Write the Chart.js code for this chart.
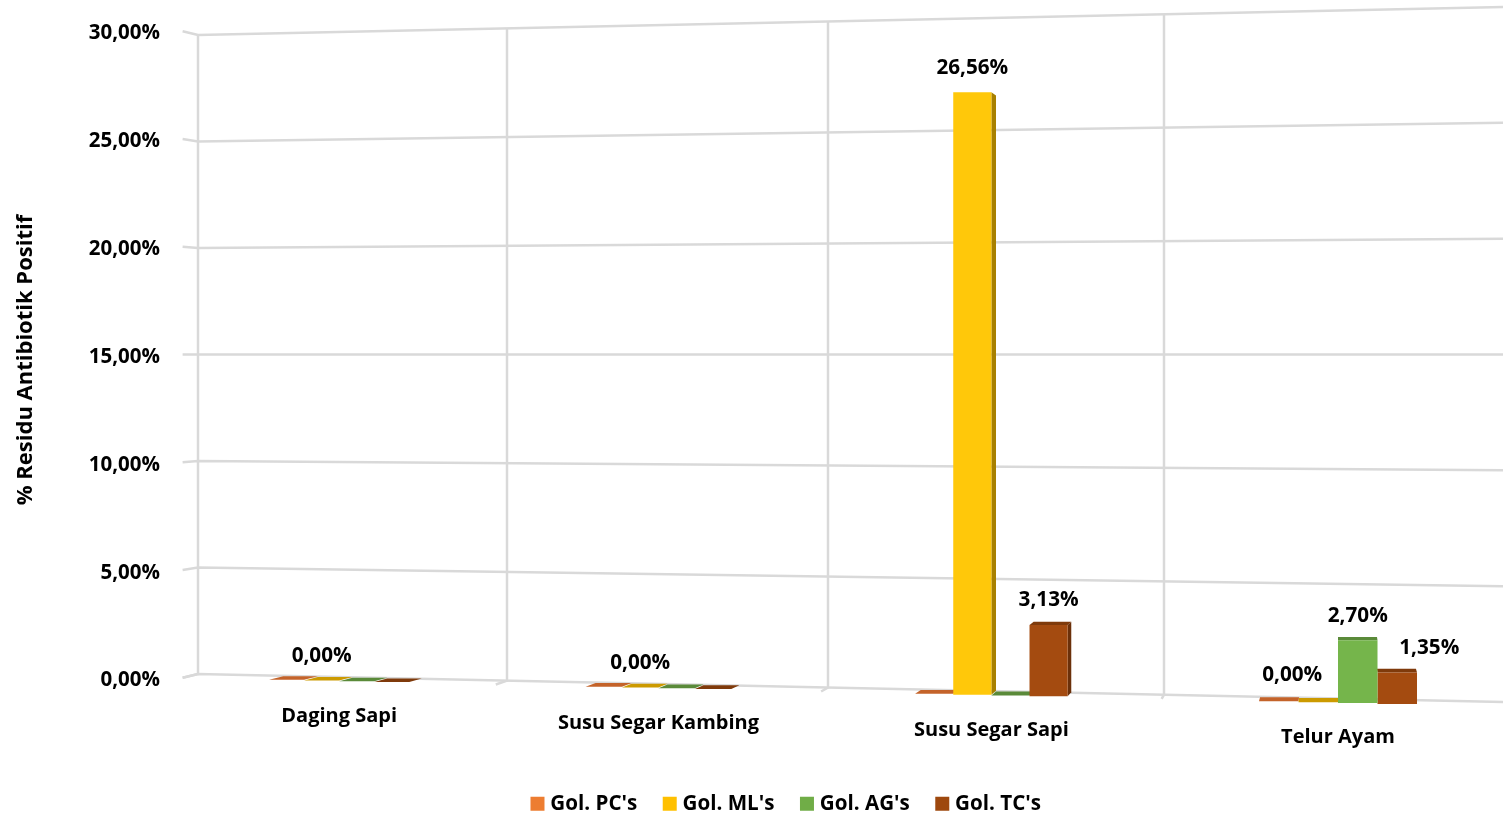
<!DOCTYPE html>
<html>
<head>
<meta charset="utf-8">
<title>Residu Antibiotik</title>
<script src="https://cdn.jsdelivr.net/npm/chart.js@4/dist/chart.umd.js"></script>
<style>
  html, body { margin: 0; padding: 0; background: #fff; overflow: hidden; }
  canvas { display: block; }
</style>
</head>
<body>
<canvas id="myChart" width="1503" height="813"></canvas>
<script>
const categories = ['Daging Sapi', 'Susu Segar Kambing', 'Susu Segar Sapi', 'Telur Ayam'];
const seriesNames = ["Gol. PC's", "Gol. ML's", "Gol. AG's", "Gol. TC's"];
const golPC = [0, 0, 0, 0];
const golML = [0, 0, 26.56, 0];
const golAG = [0, 0, 0, 2.70];
const golTC = [0, 0, 3.13, 1.35];
const yMax = 30;
const yStep = 5;

const legendColors = ['#ED7D31', '#FFC000', '#70AD47', '#9E480E'];
const frontColors = ['#ED7D31', '#FFC80A', '#75B54B', '#A44B10'];
const topColors = ['#C4632A', '#CC9A00', '#5A8A39', '#7F3A0B'];
const sideColors = ['#A0521F', '#A88000', '#4A7230', '#6B300A'];
const gridColor = '#D9D9D9';
const fontName = '"Open Sans", sans-serif';

// perspective of the 3d wall, x of the wall columns
const wallEdges = [198, 507, 828, 1164, 1512];
const wallLeft = 198, wallRight = 1503;
const axisTop = 31, axisBottom = 678;
const kLeft = 0.9876, kRight = 1.0742, kFront = 1.012;
const vanishX = 1338, depthSlope = 0.0135, slotShare = 0.112;

const pct = v => v.toFixed(2).replace('.', ',') + '%';
const kAt = x => kLeft + (x - wallLeft) / (wallRight - wallLeft) * (kRight - kLeft);
const toFrontX = x => x - (vanishX - x) * depthSlope;

function projY(chart, x, value, front) {
  const s = chart.scales.y;
  const mid = (s.top + s.bottom) / 2;
  const k = kAt(x) * (front ? kFront : 1);
  return mid + (s.getPixelForValue(value) - mid) * k;
}

function poly(ctx, pts, color) {
  ctx.fillStyle = color;
  ctx.beginPath();
  pts.forEach((p, i) => i ? ctx.lineTo(p[0], p[1]) : ctx.moveTo(p[0], p[1]));
  ctx.closePath();
  ctx.fill();
}

// bar corners on the back and the front plane
function barBox(chart, d, i) {
  const center = (wallEdges[i] + wallEdges[i + 1]) / 2;
  const slot = (wallEdges[i + 1] - wallEdges[i]) * slotShare;
  const backL = center + (d - 2) * slot;
  const backR = backL + slot;
  const value = chart.data.datasets[d].data[i];
  const frontL = toFrontX(backL), frontR = toFrontX(backR);
  const midF = (frontL + frontR) / 2, midB = (backL + backR) / 2;
  return {
    value, backL, backR, frontL, frontR, midF,
    topF: projY(chart, midF, value, true),
    baseF: projY(chart, midF, 0, true),
    topB: projY(chart, midB, value, false),
    baseB: projY(chart, midB, 0, false)
  };
}

const wall3d = {
  id: 'wall3d',
  afterLayout(chart) {
    chart.legend.left += 30;
    chart.legend.right += 30;
    chart.legend.top += 11;
    chart.legend.bottom += 11;
    const y = chart.scales.y;
    y.top = axisTop;
    y.bottom = axisBottom;
    y.height = axisBottom - axisTop;
    y.configure();
    // axis title sits a bit below the middle of the axis
    if (!y.titleShifted) {
      const drawTitle = y.drawTitle;
      y.drawTitle = function () {
        this.ctx.save();
        this.ctx.translate(0, 5.5);
        drawTitle.call(this);
        this.ctx.restore();
      };
      y.titleShifted = true;
    }
  },
  beforeDraw(chart) {
    // category labels follow the slanted floor
    chart.scales.x.getLabelItems().forEach((item, i) => {
      const b1 = barBox(chart, 1, i), b2 = barBox(chart, 2, i);
      const x = (b1.frontR + b2.frontL) / 2;
      item.options.translation = [x, projY(chart, x, 0, true) + 35];
      item.options.textAlign = 'center';
      item.options.textBaseline = 'middle';
      item.textOffset = 0;
    });
    const y = chart.scales.y;
    y.getLabelItems().forEach((item, i) => {
      item.options.translation[1] = y.getPixelForTick(i) + 2.5;
    });
  },
  beforeDatasetsDraw(chart) {
    const ctx = chart.ctx;
    const yTicks = chart.scales.y.ticks;
    ctx.save();
    ctx.strokeStyle = gridColor;
    ctx.lineWidth = 2.5;
    yTicks.forEach(t => {
      ctx.beginPath();
      ctx.moveTo(toFrontX(wallLeft), projY(chart, wallLeft, t.value, true));
      ctx.lineTo(wallLeft, projY(chart, wallLeft, t.value, false));
      ctx.lineTo(wallRight, projY(chart, wallRight, t.value, false));
      ctx.stroke();
    });
    wallEdges.slice(0, 4).forEach(x => {
      ctx.beginPath();
      ctx.moveTo(x, projY(chart, x, yMax, false));
      ctx.lineTo(x, projY(chart, x, 0, false));
      ctx.lineTo(toFrontX(x), projY(chart, x, 0, true));
      ctx.stroke();
    });

    // place the library's bars on the front plane, draw floor, side and top faces
    chart.data.datasets.forEach((ds, d) => {
      chart.getDatasetMeta(d).data.forEach((el, i) => {
        const b = barBox(chart, d, i);
        el.x = b.midF;
        el.width = b.frontR - b.frontL;
        el.y = b.topF;
        el.base = b.baseF;
        if (b.value === 0) {
          poly(ctx, [[b.frontL, b.baseF], [b.frontR, b.baseF], [b.backR, b.baseB], [b.backL, b.baseB]], topColors[d]);
        } else {
          if (b.topB < b.topF) {
            poly(ctx, [[b.frontL, b.topF], [b.frontR, b.topF], [b.backR, b.topB], [b.backL, b.topB]], topColors[d]);
          }
          if (b.backR - b.frontR > 0.5) {
            poly(ctx, [[b.frontR, b.topF], [b.backR, b.topB], [b.backR, b.baseB], [b.frontR, b.baseF]], sideColors[d]);
          }
        }
      });
    });
    ctx.restore();
  },
  afterDatasetsDraw(chart) {
    const ctx = chart.ctx;
    ctx.save();
    ctx.font = 'bold 20.7px ' + fontName;
    ctx.fillStyle = '#000';
    ctx.textAlign = 'center';
    ctx.textBaseline = 'middle';
    chart.data.datasets.forEach((ds, d) => {
      ds.data.forEach((v, i) => {
        if (v === 0 && d !== 1) return;
        const b = barBox(chart, d, i);
        let dx = 0;
        if (i === 3 && d === 1) dx = -26;
        if (i === 3 && d === 3) dx = 32;
        ctx.fillText(pct(v), b.midF + dx, b.topF - (i === 3 && d === 1 ? 27.5 : 24.5));
      });
    });
    ctx.restore();
  }
};

const allSeries = [golPC, golML, golAG, golTC];
const datasets = seriesNames.map((name, d) => ({
  label: name,
  data: allSeries[d],
  backgroundColor: frontColors[d],
  borderWidth: 0,
  clip: false
}));

new Chart(document.getElementById('myChart'), {
  type: 'bar',
  data: { labels: categories, datasets: datasets },
  plugins: [wall3d],
  options: {
    responsive: false,
    animation: false,
    devicePixelRatio: 1,
    layout: { padding: { top: 14, left: 13, right: 0, bottom: 0 } },
    plugins: {
      tooltip: { enabled: false },
      legend: {
        position: 'bottom',
        labels: {
          color: '#000',
          font: { family: fontName, weight: 'bold', size: 20.6 },
          boxWidth: 5,
          boxHeight: 5,
          padding: 30,
          generateLabels(chart) {
            return chart.data.datasets.map((ds, d) => ({
              text: ds.label,
              fillStyle: legendColors[d],
              strokeStyle: legendColors[d],
              lineWidth: 9,
              datasetIndex: d
            }));
          }
        }
      }
    },
    scales: {
      x: {
        grid: { display: false },
        border: { display: false },
        ticks: { color: '#000', font: { family: fontName, weight: 'bold', size: 20 }, maxRotation: 0, autoSkip: false },
        afterFit(s) { s.height = 78; }
      },
      y: {
        min: 0,
        max: yMax,
        grid: { display: false, drawTicks: false },
        border: { display: false },
        ticks: {
          stepSize: yStep,
          padding: 38,
          color: '#000',
          font: { family: fontName, weight: 'bold', size: 20.5 },
          callback: v => pct(v)
        },
        title: {
          display: true,
          text: '% Residu Antibiotik Positif',
          color: '#000',
          font: { family: fontName, weight: 'bold', size: 22 },
          padding: 0
        },
        afterFit(s) { s.width = 185; }
      }
    }
  }
});
</script>
</body>
</html>
